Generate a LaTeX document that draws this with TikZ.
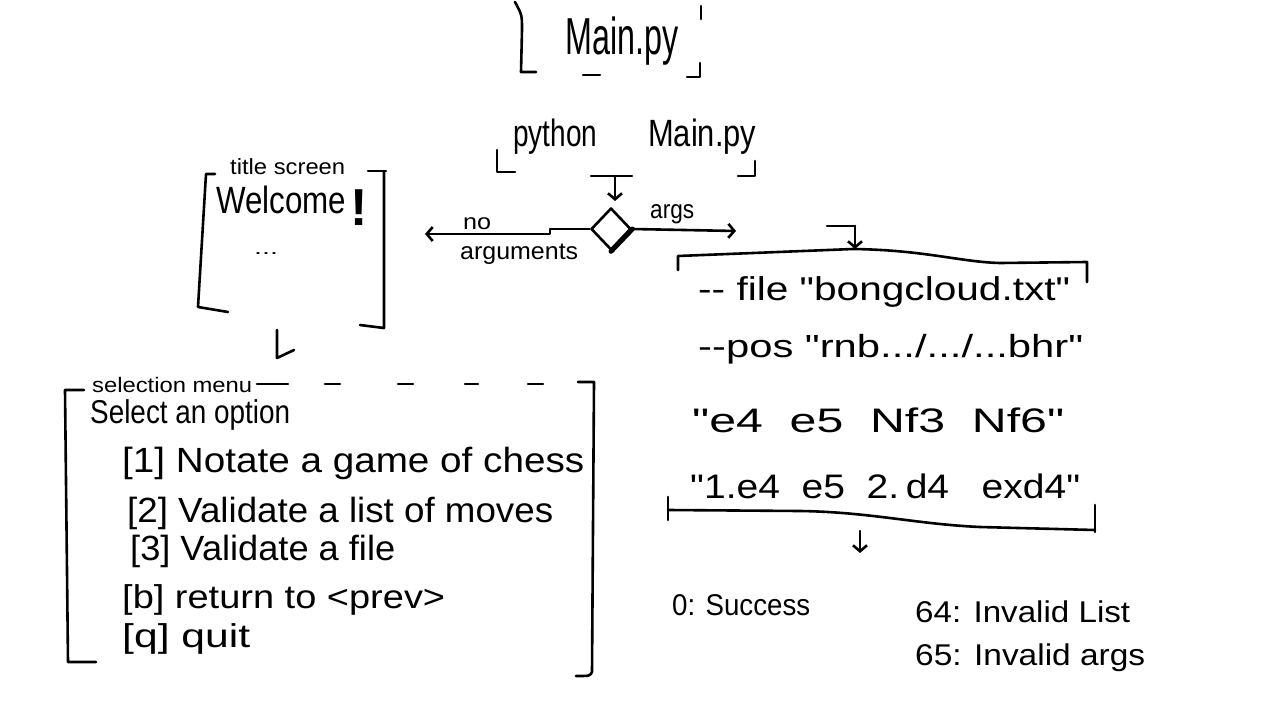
\documentclass[tikz,border=0pt]{standalone}
\usepackage{fontspec}
\setmainfont{Liberation Sans}[Ligatures=TeXOff]
\usepackage{graphicx}
\usetikzlibrary{arrows.meta,shapes.geometric}
\newcommand\fw[2]{\resizebox{#1pt}{\height}{#2}}
\begin{document}
\begin{tikzpicture}[x=1pt,y=-1pt,
  hand/.style={line width=2.6pt,line cap=round,line join=round},
  arr/.style={hand,-{Straight Barb[length=6pt,width=14pt]}},
  lbl/.style={inner sep=0pt,anchor=base west},
  fs/.style={font=\fontsize{#1}{#1}\selectfont},
]
\useasboundingbox[fill=white] (0,0) rectangle (1282,717);

% ---------- Main.py ----------
\node[lbl,fs=52] (mainpy) at (565,55) {\fw{113}{Main.py}};
\draw[hand] (515,2) .. controls (522,15) .. (522,30) -- (521,72) -- (536,72);
\draw[hand] (583,75) -- (600,75);
\draw[hand] (701,6) -- (701,19);
\draw[hand] (687,77) -- (700,77) -- (700,63);

% ---------- python Main.py ----------
\node[lbl,fs=38] (python) at (513,146) {\fw{84}{python}};
\node[lbl,fs=38] (mainpy2) at (648,146) {\fw{108}{Main.py}};
\draw[hand] (497,150) -- (497,172) -- (515,172);
\draw[hand] (738,176) -- (755,176) -- (755,161);

% ---------- decision ----------
\node[diamond,draw,hand,minimum width=40pt,minimum height=42pt,inner sep=0pt,aspect=1] (dec) at (611,229) {};
\draw[line width=5pt,line cap=round] (dec.east) -- (dec.south);
\coordinate (ttop) at (615,176);
\draw[hand] (591,176) -- (632,176);
\draw[arr,shorten >=8pt] (ttop) -- (615,209);
\coordinate (argsend) at (736,231);
\draw[arr] (dec.east) -- (argsend);
\node[lbl,fs=26] (args) at (650,218) {\fw{44}{args}};
\coordinate (noend) at (425,234);
\draw[arr] (dec.west) -- (550,229) -- (550,234) -- (noend);
\node[lbl,fs=22] (no) at (463,229) {\fw{28}{no}};
\node[lbl,fs=24] (argu) at (460,259) {\fw{118}{arguments}};

% ---------- title screen ----------
\node[lbl,fs=22] (tscr) at (230,174) {\fw{115}{title screen}};
\node[lbl,fs=38] (welc) at (216,213) {\fw{130}{Welcome}};
\node[lbl,font=\fontsize{52}{52}\selectfont\bfseries] (bang) at (350,225) {!};
\node[lbl,fs=18,text height=4pt,text depth=0pt] (dots) at (254,254) {\fw{24}{...}};
\draw[hand] (215,174) -- (206,174) -- (198,307) -- (228,312);
\draw[hand] (368,171) -- (386,171);
\draw[hand] (384,171) -- (384,328) -- (360,325);
\coordinate (tsa) at (277,330);
\coordinate (tsb) at (277,358);
\draw[hand] (tsa) -- (tsb) -- ++(17,-8);

% ---------- selection menu ----------
\node[lbl,fs=21] (selm) at (92,392) {\fw{160}{selection menu}};
\node[lbl,fs=33] (sel) at (90,423) {\fw{200}{Select an option}};
\node[lbl,fs=35] (o1) at (122,472) {\fw{462}{[1] Notate a game of chess}};
\node[lbl,fs=35] (o2) at (127,522) {\fw{426}{[2] Validate a list of moves}};
\node[lbl,fs=35] (o3) at (130,560) {\fw{265}{[3] Validate a file}};
\node[lbl,fs=33] (ob) at (122,608) {\fw{323}{[b] return to <prev>}};
\node[lbl,fs=33] (oq) at (122,647) {\fw{128}{[q] quit}};
\draw[hand] (84,390) -- (65,390) -- (68,662) -- (96,662);
\foreach \a/\b in {268/288,325/340,398/413,465/478,528/543}
  \draw[hand] (\a,384) -- (\b,384);
\draw[hand] (270,384) -- (257,384);
\draw[hand] (578,382) -- (594,382) -- (592,672) .. controls (590,676) .. (576,676);

% ---------- args box ----------
\node[lbl,fs=33] (l1) at (698,300) {\fw{372}{-{}- file "bongcloud.txt"}};
\node[lbl,fs=32] (l2) at (698,357) {\fw{385}{-{}-pos "rnb.../.../...bhr"}};
\node[lbl,fs=34] (l3) at (692,432) {\fw{372}{"e4\ \ e5\ \ Nf3\ \ Nf6"}};
\node[lbl,fs=34] (l4) at (690,498) {\fw{390}{"1.e4\ \ e5\ \ 2.\,d4\ \ \ exd4"}};
\draw[hand] (678,270) -- (678,256) -- (853,249) .. controls (925,250) and (960,262) .. (1000,263) -- (1087,262) -- (1087,282);
\draw[hand] (668,497) -- (668,520);
\draw[hand] (668,510) -- (800,511) .. controls (870,512) and (915,524) .. (980,527) -- (1095,530);
\draw[hand] (1095,505) -- (1095,532);
\coordinate (bxa) at (827,226);
\coordinate (bxb) at (855,249);
\draw[hand] (bxa) -- (855,226);
\draw[arr] (855,226) -- (bxb);
\coordinate (bxc) at (860,531);
\coordinate (bxd) at (860,553);
\draw[arr] (bxc) -- (bxd);

% ---------- exit codes ----------
\node[lbl,fs=30] (c0) at (672,615) {\fw{138}{0: Success}};
\node[lbl,fs=30] (c64) at (915,622) {\fw{215}{64: Invalid List}};
\node[lbl,fs=30] (c65) at (915,665) {\fw{230}{65: Invalid args}};
\end{tikzpicture}
\end{document}
